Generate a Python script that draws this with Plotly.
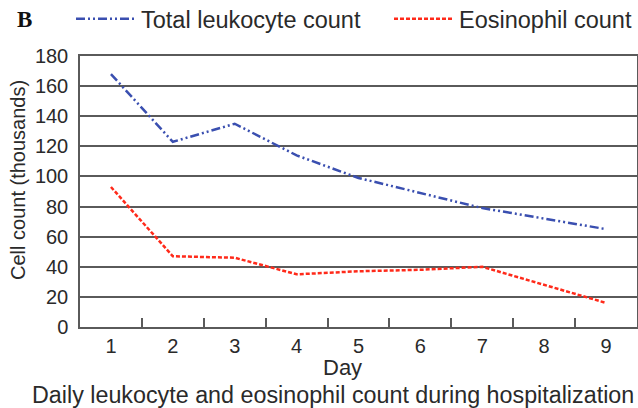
import plotly.graph_objects as go

days = ["1", "2", "3", "4", "5", "6", "7", "8", "9"]
leukocyte = [168, 123, 135, 114, 99, 89, 79, 72, 65]
eosinophil = [93, 47, 46, 35, 37, 38, 40, 28, 16]
y_ticks = [0, 20, 40, 60, 80, 100, 120, 140, 160, 180]

FONT = "Liberation Sans, Arial, Helvetica, sans-serif"
GRID = "#5a5a5a"
TXT = "#2a2a2a"

W, H = 638, 408
ML, MR, MT, MB = 80, 1, 56, 81

fig = go.Figure()
fig.add_trace(go.Scatter(
    x=days, y=leukocyte, mode="lines", name="Total leukocyte count",
    line=dict(color="#3a4fb0", width=2.5, dash="9px,3px,2px,3px,2px,3px"),
    legendwidth=243,
))
fig.add_trace(go.Scatter(
    x=days, y=eosinophil, mode="lines", name="Eosinophil count",
    line=dict(color="#ff2a1a", width=2.5, dash="4px,2px"),
))

pw, ph = W - ML - MR, H - MT - MB
def px(xp):
    return (xp - ML) / pw
def py(yp):
    return (H - MB - yp) / ph

fig.update_layout(
    width=W, height=H,
    margin=dict(l=ML, r=MR, t=MT, b=MB, autoexpand=False),
    paper_bgcolor="white", plot_bgcolor="white",
    font=dict(family=FONT, size=20, color=TXT),
    showlegend=True,
    legend=dict(
        orientation="h", x=px(71), xanchor="left", y=py(19), yanchor="middle",
        font=dict(size=23.5, color=TXT), bgcolor="rgba(0,0,0,0)",
        itemwidth=60, tracegroupgap=0,
    ),
    xaxis=dict(
        type="category", range=[-0.5, 8.5], tickson="boundaries",
        ticks="inside", ticklen=9, tickwidth=1.5, tickcolor=GRID,
        showgrid=False, showline=True, linecolor=GRID, linewidth=1.5, mirror=True,
        tickfont=dict(size=20),
    ),
    yaxis=dict(
        range=[0, 180], tickvals=y_ticks, ticks="", showgrid=True,
        gridcolor=GRID, gridwidth=1.5, zeroline=False,
        showline=True, linecolor=GRID, linewidth=1.5, mirror=True,
        tickfont=dict(size=20), ticklabelstandoff=6,
    ),
)

fig.add_annotation(text="<b>B</b>", x=px(15), y=py(19), xref="paper", yref="paper",
                   showarrow=False, xanchor="left", yanchor="middle",
                   font=dict(family="Liberation Serif, Times New Roman, serif", size=23, color="#111"))
fig.add_annotation(text="Cell count (thousands)", textangle=-90,
                   x=px(18), y=py(180), xref="paper", yref="paper",
                   showarrow=False, xanchor="center", yanchor="middle",
                   font=dict(size=20, color=TXT))
fig.add_annotation(text="Day", x=px(342), y=py(367), xref="paper", yref="paper",
                   showarrow=False, xanchor="center", yanchor="middle",
                   font=dict(size=22, color=TXT))
fig.add_annotation(text="Daily leukocyte and eosinophil count during hospitalization",
                   x=px(30), y=py(395), xref="paper", yref="paper",
                   showarrow=False, xanchor="left", yanchor="middle",
                   font=dict(size=23.3, color=TXT))

fig.write_html("out.html", config={"displayModeBar": False},
               post_script="document.body.style.margin='0';document.body.style.overflow='hidden';")
